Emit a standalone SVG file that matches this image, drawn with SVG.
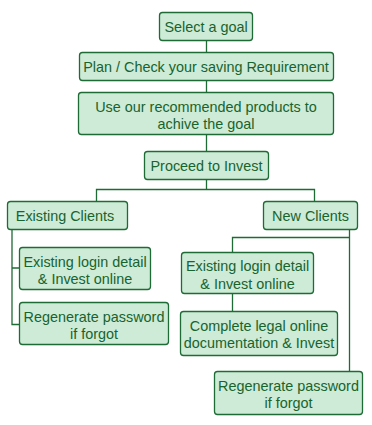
<svg xmlns="http://www.w3.org/2000/svg" width="372" height="425" viewBox="0 0 372 425">
<style>
.n rect{fill:#cdebd6;stroke:#1e6b35;stroke-width:1.3}
.n text{font-family:"Liberation Sans",Arial,sans-serif;font-size:14.4px;fill:#18632e;text-anchor:middle}
.c path{fill:none;stroke:#1e6b35;stroke-width:1.3}
</style>
<rect width="372" height="425" fill="#ffffff"/>
<g class="c">
<path d="M206.5 40.5V52.5M206.5 80.5V92.5M206.5 134.5V151.5M206.5 179.5V189.5M96.5 201.5V189.5H314.5V201.5"/>
<path d="M12 229.5V324.5H19.5M12 268H19.5"/>
<path d="M349.5 229.5V371.5M349.5 237.5H232.5V252.5M232.5 293.5V311.5"/>
</g>
<g id="n1" class="n"><rect x="159.5" y="12.5" width="93" height="28" rx="3"/><text x="206" y="31.5">Select a goal</text></g>
<g id="n2" class="n"><rect x="79.5" y="52.5" width="254" height="28" rx="3"/><text x="206" y="71.5">Plan / Check your saving Requirement</text></g>
<g id="n3" class="n"><rect x="78.5" y="92.5" width="255" height="42" rx="3"/><text x="206" y="111.5">Use our recommended products to</text><text x="206" y="129">achive the goal</text></g>
<g id="n4" class="n"><rect x="144.5" y="151.5" width="124" height="28" rx="3"/><text x="206.5" y="170.5">Proceed to Invest</text></g>
<g id="n5" class="n"><rect x="7.5" y="201.5" width="120" height="28" rx="3"/><text x="65" y="220.5">Existing Clients</text></g>
<g id="n6" class="n"><rect x="263.5" y="201.5" width="94" height="28" rx="3"/><text x="310.5" y="220.5">New Clients</text></g>
<g id="n7" class="n"><rect x="19.5" y="247.5" width="131" height="42" rx="3"/><text x="85" y="266.5">Existing login detail</text><text x="85" y="284">&amp; Invest online</text></g>
<g id="n8" class="n"><rect x="19.5" y="302.5" width="149" height="42" rx="3"/><text x="94" y="321.5">Regenerate password</text><text x="94" y="339">if forgot</text></g>
<g id="n9" class="n"><rect x="181.5" y="252.5" width="132" height="41" rx="3"/><text x="247.5" y="271">Existing login detail</text><text x="247.5" y="289">&amp; Invest online</text></g>
<g id="n10" class="n"><rect x="180.5" y="311.5" width="157" height="44" rx="3"/><text x="259" y="330.5">Complete legal online</text><text x="259" y="348">documentation &amp; Invest</text></g>
<g id="n11" class="n"><rect x="214.5" y="371.5" width="148" height="43" rx="3"/><text x="288.5" y="390.5">Regenerate password</text><text x="288.5" y="408">if forgot</text></g>
</svg>
